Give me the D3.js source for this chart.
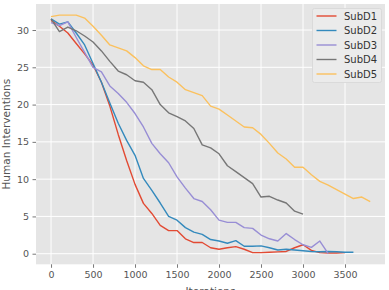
<!DOCTYPE html>
<html>
<head>
<meta charset="utf-8">
<script src="https://cdn.jsdelivr.net/npm/d3@7"></script>
<style>
  body { margin: 0; background: #fff; }
  svg { display: block; font-family: "DejaVu Sans", sans-serif; }
</style>
</head>
<body>
<div id="chart"></div>
<script>
const width = 389;
const height = 290;
const plot = { left: 36, right: 385, top: 4, bottom: 264.3 };

const seriesNames = ["SubD1", "SubD2", "SubD3", "SubD4", "SubD5"];
const colors = ["#E24A33", "#348ABD", "#988ED5", "#777777", "#FBC15E"];
const step = 100; // iterations between samples

const subD1 = [31.3, 30.5, 29.6, 28.2, 26.8, 25.3, 23.0, 19.8, 16.0, 12.5,
  9.3, 6.75, 5.4, 3.8, 3.1, 3.1, 2.0, 1.5, 1.5, 0.8,
  0.6, 0.8, 0.95, 0.6, 0.15, 0.15, 0.2, 0.25, 0.3, 0.8,
  1.2, 0.45, 0.15, 0.1, 0.1, 0.15];
const subD2 = [31.5, 30.8, 31.1, 29.6, 28.0, 25.5, 23.0, 20.2, 17.5, 15.2,
  13.2, 10.1, 8.5, 6.8, 5.0, 4.5, 3.5, 2.9, 2.6, 1.9,
  1.7, 1.4, 1.75, 1.0, 1.0, 1.05, 0.8, 0.5, 0.6, 0.5,
  0.4, 0.3, 0.27, 0.3, 0.27, 0.2, 0.2];
const subD3 = [31.0, 30.6, 31.1, 29.0, 27.0, 25.0, 24.4, 22.5, 21.5, 20.3,
  18.8, 17.0, 14.8, 13.4, 12.2, 10.3, 8.8, 7.4, 7.0, 5.9,
  4.5, 4.2, 4.2, 3.5, 3.4, 2.5, 2.0, 1.7, 2.7, 1.9,
  1.2, 0.85, 1.7, 0.0];
const subD4 = [31.5, 29.8, 30.4, 29.9, 29.2, 28.4, 27.2, 25.8, 24.5, 24.0,
  23.2, 23.0, 22.0, 20.0, 18.9, 18.4, 17.8, 16.8, 14.6, 14.2,
  13.4, 11.8, 11.0, 10.2, 9.4, 7.6, 7.7, 7.2, 6.8, 5.7,
  5.3];
const subD5 = [31.8, 32.0, 32.0, 32.0, 31.6, 30.5, 29.3, 28.0, 27.6, 27.2,
  26.3, 25.2, 24.7, 24.7, 23.7, 23.0, 22.0, 21.6, 21.2, 19.8,
  19.4, 18.6, 17.8, 17.0, 16.9, 16.0, 14.8, 13.5, 12.7, 11.6,
  11.6, 10.6, 9.7, 9.2, 8.6, 8.0, 7.4, 7.6, 7.0];
const allSeries = [subD1, subD2, subD3, subD4, subD5];

const xTicks = [0, 500, 1000, 1500, 2000, 2500, 3000, 3500];
const yTicks = [0, 5, 10, 15, 20, 25, 30];

const svg = d3
  .select("#chart")
  .append("svg")
  .attr("width", width)
  .attr("height", height);

const xScale = d3.scaleLinear().domain([-179, 3976]).range([plot.left, plot.right]);
const yScale = d3.scaleLinear().domain([-1.42, 33.49]).range([plot.bottom, plot.top]);

// Axes background
svg.append("rect")
  .attr("x", plot.left)
  .attr("y", plot.top)
  .attr("width", plot.right - plot.left)
  .attr("height", plot.bottom - plot.top)
  .attr("fill", "#E5E5E5");

// Grid
svg.append("g")
  .selectAll("line")
  .data(xTicks)
  .enter()
  .append("line")
  .attr("x1", (d) => xScale(d))
  .attr("x2", (d) => xScale(d))
  .attr("y1", plot.top)
  .attr("y2", plot.bottom)
  .attr("stroke", "#fff")
  .attr("stroke-width", 1);

svg.append("g")
  .selectAll("line")
  .data(yTicks)
  .enter()
  .append("line")
  .attr("x1", plot.left)
  .attr("x2", plot.right)
  .attr("y1", (d) => yScale(d))
  .attr("y2", (d) => yScale(d))
  .attr("stroke", "#fff")
  .attr("stroke-width", 1);

// Axes
const xAxis = svg.append("g")
  .attr("transform", `translate(0,${plot.bottom})`)
  .call(d3.axisBottom(xScale).tickValues(xTicks).tickFormat(d3.format("d"))
    .tickSize(3.5).tickPadding(3.5));
const yAxis = svg.append("g")
  .attr("transform", `translate(${plot.left},0)`)
  .call(d3.axisLeft(yScale).tickValues(yTicks).tickFormat(d3.format("d"))
    .tickSize(3.5).tickPadding(3.5));

[xAxis, yAxis].forEach((ax) => {
  ax.select(".domain").remove();
  ax.selectAll(".tick line").attr("stroke", "#555").attr("stroke-width", 0.8);
  ax.selectAll(".tick text")
    .attr("fill", "#555")
    .style("font-size", "9.5px")
    .style("font-family", "DejaVu Sans, sans-serif");
});

// Lines
const line = d3.line()
  .x((d, i) => xScale(i * step))
  .y((d) => yScale(d));

svg.append("g")
  .selectAll("path")
  .data(allSeries)
  .enter()
  .append("path")
  .attr("d", (d) => line(d))
  .attr("fill", "none")
  .attr("stroke", (d, i) => colors[i])
  .attr("stroke-width", 1.4)
  .attr("stroke-linejoin", "round");

// Axis labels (x label sits partly below the frame, as in the reference)
svg.append("text")
  .attr("x", (plot.left + plot.right) / 2)
  .attr("y", 294.5)
  .attr("text-anchor", "middle")
  .attr("fill", "#555")
  .style("font-size", "10.5px")
  .text("Iterations");

svg.append("text")
  .attr("transform", `translate(10,${(plot.top + plot.bottom) / 2}) rotate(-90)`)
  .attr("text-anchor", "middle")
  .attr("fill", "#555")
  .style("font-size", "10.5px")
  .text("Human Interventions");

// Legend
const legend = svg.append("g").attr("transform", "translate(312.5,8.5)");
legend.append("rect")
  .attr("width", 69)
  .attr("height", 74)
  .attr("rx", 2)
  .attr("fill", "#EBEBEB")
  .attr("stroke", "#D5D5D5")
  .attr("stroke-width", 0.8);

const rows = legend.selectAll("g.row")
  .data(seriesNames)
  .enter()
  .append("g")
  .attr("class", "row")
  .attr("transform", (d, i) => `translate(0,${7.5 + i * 14.5})`);

rows.append("line")
  .attr("x1", 4)
  .attr("x2", 24)
  .attr("stroke", (d, i) => colors[i])
  .attr("stroke-width", 1.4);

rows.append("text")
  .attr("x", 31.5)
  .attr("dy", "0.35em")
  .attr("fill", "#333")
  .style("font-size", "10px")
  .text((d) => d);
</script>
</body>
</html>
